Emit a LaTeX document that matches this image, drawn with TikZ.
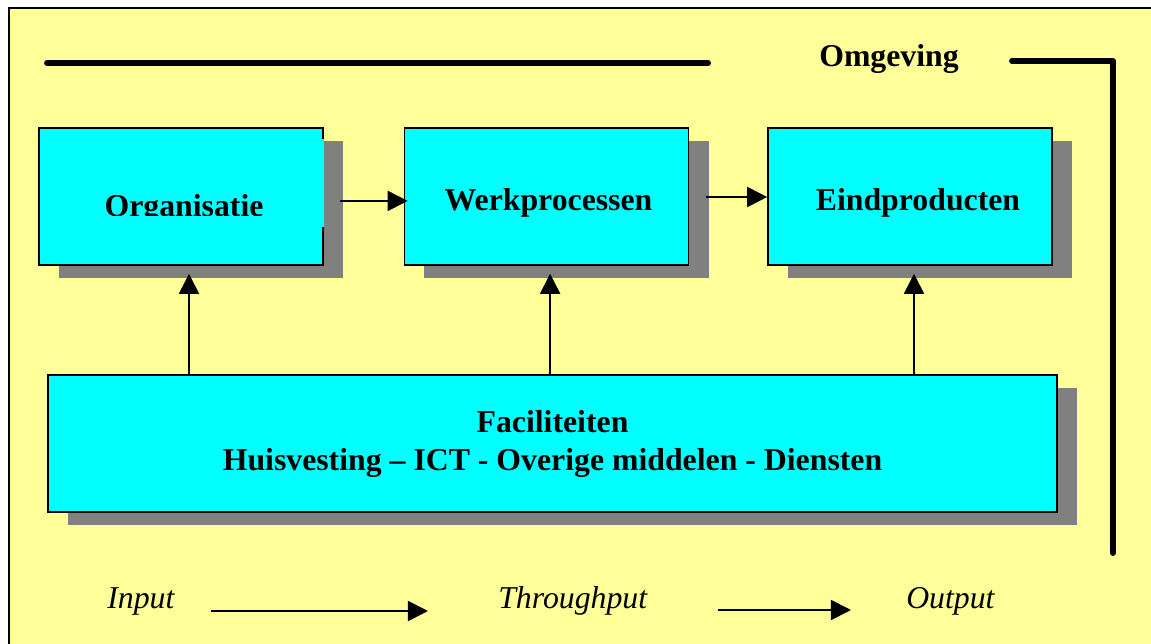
\documentclass[tikz,border=0pt]{standalone}
\usepackage{fontspec}
\setmainfont{Liberation Serif}
\usetikzlibrary{arrows.meta,shadows,positioning}
\definecolor{paper}{HTML}{FFFF99}
\definecolor{boxfill}{HTML}{00FFFF}
\definecolor{shade}{HTML}{808080}
\tikzset{x=0.025cm,y=-0.025cm,
  frame/.style={draw=black,line width=1.8pt,fill=paper},
  bar/.style={line width=4.2pt,line cap=round,line join=round},
  box/.style={draw=black,line width=1.1pt,fill=boxfill,
    minimum width=7.1cm,minimum height=3.425cm,inner sep=0pt,
    font=\fontsize{22.6pt}{27pt}\selectfont\bfseries,
    drop shadow={shadow xshift=0.5cm,shadow yshift=-0.325cm,fill=shade,opacity=1}},
  topbox/.style={box,text height=19.2pt,text depth=0pt},
  boldtext/.style={inner sep=0pt,font=\fontsize{22.6pt}{27pt}\selectfont\bfseries},
  flowtext/.style={inner sep=0pt,anchor=base west,
    font=\fontsize{22.6pt}{27pt}\selectfont\itshape},
  flow/.style={-{Triangle[length=0.5cm,width=0.5cm]},line width=1.3pt},
}

\begin{document}
\begin{tikzpicture}
  \useasboundingbox (0,0) rectangle (1151,644);
  \clip (0,0) rectangle (1151,644);
  \fill[white] (0,0) rectangle (1151,644);
  \draw[frame] (9,8) rectangle (1180,680);

  % omgeving
  \node[boldtext,anchor=base west] (omg) at (819,67) {Omgeving};
  \draw[bar] (47,63) -- (708,63);
  \draw[bar] (1012,61) -- (1113,61) -- (1113,553);

  % boxes
  \node[topbox] (org) at (181,196.5) {};
  \node[topbox] (werk) at (546.5,196.5) {\hspace*{0.1cm}Werkprocessen};
  \node[topbox] (eind) at (910,196.5) {\hspace*{0.4cm}Eindproducten};
  \node[box,minimum width=25.225cm,align=center] (fac) at (552.5,443.5)
    {Faciliteiten\\Huisvesting – ICT - Overige middelen - Diensten};

  \begin{scope}
    \clip (org.north west) rectangle ([yshift=1.25cm]org.south east);
    \node[boldtext,anchor=base] (orgtext) at (184,216) {Organisatie};
  \end{scope}
  \draw[boxfill,line width=1.3pt] ([xshift=-0.55pt,yshift=-0.3cm]org.north east)
    -- ([xshift=-0.55pt,yshift=0.975cm]org.south east);

  % arrows
  \draw[flow] ([xshift=0.4cm,yshift=-0.11cm]org.east) -- ([xshift=0.1cm,yshift=-0.11cm]werk.west);
  \draw[flow] ([xshift=0.425cm,yshift=-0.0125cm]werk.east) -- ([yshift=-0.0125cm]eind.west);
  \foreach \b/\dx in {org/0.2cm,werk/0.09cm,eind/0.1cm}
    \draw[flow] ([xshift=\dx]\b.south |- fac.north) -- ([xshift=\dx,yshift=-0.2cm]\b.south);

  % input - throughput - output
  \node[flowtext] (input) at (107,608) {Input};
  \node[flowtext] (through) at (498,608) {Throughput};
  \node[flowtext] (output) at (906,608) {Output};
  \draw[flow] ([xshift=0.9cm,yshift=-0.075cm]input.base east)
    -- ([xshift=-1.75cm,yshift=-0.075cm]through.base west);
  \draw[flow] ([xshift=1.75cm,yshift=-0.05cm]through.base east)
    -- ([xshift=-1.375cm,yshift=-0.05cm]output.base west);
\end{tikzpicture}
\end{document}
